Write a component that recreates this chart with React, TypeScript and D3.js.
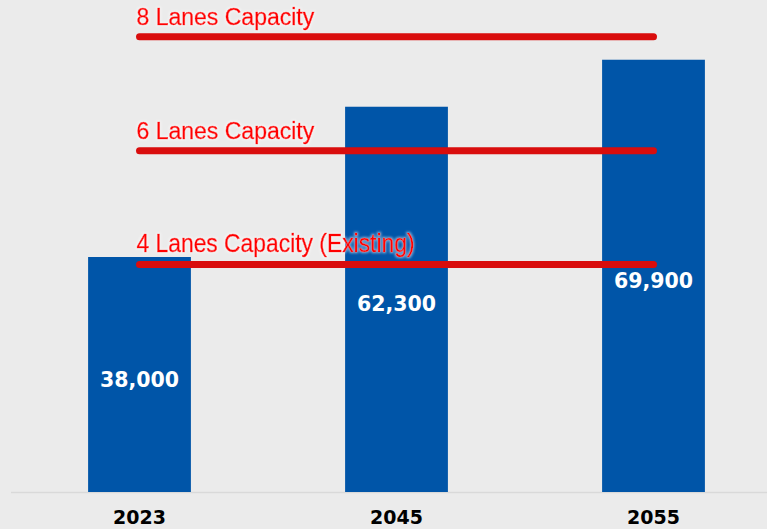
import * as d3 from 'd3';

const years = ['2023', '2045', '2055'];
const traffic = [38000, 62300, 69900];
const capacityLabels = ['4 Lanes Capacity (Existing)', '6 Lanes Capacity', '8 Lanes Capacity'];
const capacityValues = [36800, 55200, 73600];

const W = 767;
const H = 529;
const baseY = 492;

export default function App() {
  const x = d3.scaleBand<string>()
    .domain(years)
    .range([11, 782])
    .paddingInner(0.6)
    .paddingOuter(0.3);

  const y = d3.scaleLinear()
    .domain([0, 80000])
    .range([baseY, baseY - 80000 * 0.006184]);

  const fmt = d3.format(',');
  const cx = (d: string) => (x(d) as number) + x.bandwidth() / 2;
  const lineX0 = cx(years[0]);
  const lineX1 = cx(years[years.length - 1]);

  return (
    <svg width={W} height={H} style={{ position: 'absolute', left: 0, top: 0 }}>
      <defs>
        <filter id="glow" x="-5%" y="-30%" width="110%" height="160%">
          <feMorphology in="SourceAlpha" operator="dilate" radius="0.6" result="d" />
          <feGaussianBlur in="d" stdDeviation="1" result="b" />
          <feFlood floodColor="#ffffff" floodOpacity="0.45" />
          <feComposite in2="b" operator="in" result="g" />
          <feMerge>
            <feMergeNode in="g" />
            <feMergeNode in="SourceGraphic" />
          </feMerge>
        </filter>
      </defs>
      <rect width={W} height={H} fill="#ebebeb" />

      {/* baseline */}
      <line x1={11} x2={W} y1={baseY + 0.5} y2={baseY + 0.5} stroke="#d9d9d9" strokeWidth={1.5} />

      {/* bars */}
      {years.map((d, i) => (
        <rect key={d} x={x(d)} y={y(traffic[i])} width={x.bandwidth()} height={baseY - y(traffic[i])} fill="#0055a8" />
      ))}

      {/* capacity lines */}
      {capacityValues.map((v, i) => (
        <g key={capacityLabels[i]}>
          <line x1={lineX0} x2={lineX1} y1={y(v)} y2={y(v)} stroke="#d90d0d" strokeWidth={7} strokeLinecap="round" />
          <text
            x={lineX0 - 3}
            y={y(v) - 12}
            fill="#ff0000"
            stroke="#ff0000"
            strokeWidth={0.5}
            filter="url(#glow)"
            fontFamily="'Liberation Sans', Arial, sans-serif"
            fontSize={i === 0 ? 25 : 23}
            textLength={i === 0 ? 278 : undefined}
            lengthAdjust="spacingAndGlyphs"
          >
            {capacityLabels[i]}
          </text>
        </g>
      ))}

      {/* value labels */}
      {years.map((d, i) => (
        <text
          key={'v' + d}
          x={cx(d)}
          y={y(traffic[i] / 2) + 5}
          textAnchor="middle"
          dominantBaseline="central"
          fill="#ffffff"
          fontFamily="'DejaVu Sans', Verdana, sans-serif"
          fontWeight="bold"
          fontSize={20.5}
        >
          {fmt(traffic[i])}
        </text>
      ))}

      {/* x axis labels */}
      {years.map(d => (
        <text
          key={'x' + d}
          x={cx(d)}
          y={524}
          textAnchor="middle"
          fill="#000000"
          fontFamily="'DejaVu Sans', Verdana, sans-serif"
          fontWeight="bold"
          fontSize={19}
        >
          {d}
        </text>
      ))}
    </svg>
  );
}
